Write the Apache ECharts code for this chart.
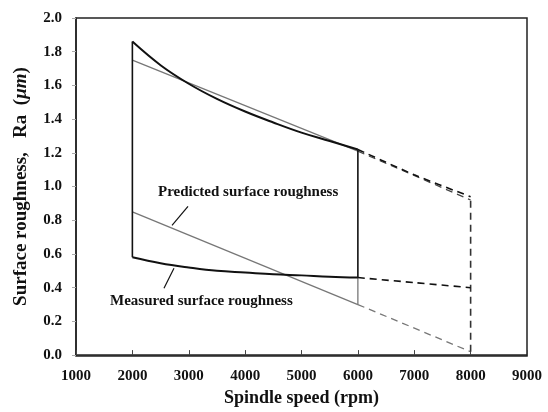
<!DOCTYPE html>
<html>
<head>
<meta charset="utf-8">
<script src="https://cdn.jsdelivr.net/npm/echarts@6/dist/echarts.min.js"></script>
<style>
  html, body { margin: 0; padding: 0; background: #fff; }
  #main { width: 548px; height: 412px; }
</style>
</head>
<body>
<div id="main"></div>
<script>
// spindle speeds (rpm) for the measured curves
var speeds = [2000, 2500, 3000, 3500, 4000, 4500, 5000, 5500, 6000];
var measuredUpper = [1.86, 1.72, 1.61, 1.52, 1.445, 1.38, 1.32, 1.27, 1.22];
var measuredLower = [0.58, 0.545, 0.52, 0.50, 0.49, 0.48, 0.473, 0.465, 0.46];

// predicted lines (straight)
var predSpeeds = [2000, 6000];
var predictedUpper = [1.75, 1.21];
var predictedLower = [0.85, 0.30];

// extrapolated part 6000 -> 8000
var extSpeeds = [6000, 7000, 8000];
var measuredUpperExt = [1.22, 1.07, 0.94];
var measuredLowerExt = [0.46, 0.43, 0.40];
var predExtSpeeds = [6000, 8000];
var predictedUpperExt = [1.21, 0.92];
var predictedLowerExt = [0.30, 0.02];

var xTicks = [1000, 2000, 3000, 4000, 5000, 6000, 7000, 8000, 9000];
var yTicks = [0.0, 0.2, 0.4, 0.6, 0.8, 1.0, 1.2, 1.4, 1.6, 1.8, 2.0];

function pairs(xs, ys) {
    return xs.map(function (x, i) { return [x, ys[i]]; });
}

var FONT = '"Liberation Serif", "Times New Roman", serif';
var BLACK = '#111';
var GREY = '#777';

var myChart = echarts.init(document.getElementById('main'));

function line(data, color, width, type, smooth) {
    return {
        type: 'line',
        data: data,
        smooth: smooth || false,
        showSymbol: false,
        symbol: 'none',
        silent: true,
        lineStyle: { color: color, width: width, type: type || 'solid' },
        z: color === BLACK ? 3 : 2
    };
}

var last = speeds.length - 1;

var option = {
    animation: false,
    grid: { left: 76, right: 21, top: 18, bottom: 56 },
    xAxis: {
        type: 'value',
        min: xTicks[0],
        max: xTicks[xTicks.length - 1],
        interval: 1000,
        name: 'Spindle speed (rpm)',
        nameLocation: 'middle',
        nameGap: 33,
        nameTextStyle: { fontFamily: FONT, fontWeight: 'bold', fontSize: 18, color: BLACK },
        axisLine: { show: true, lineStyle: { color: '#222', width: 1.5 } },
        axisTick: { show: true, inside: true, length: 5, lineStyle: { color: '#444' } },
        axisLabel: {
            fontFamily: FONT, fontWeight: 'bold', fontSize: 15, color: BLACK, margin: 14,
            formatter: function (v) { return String(v); }
        },
        splitLine: { show: false }
    },
    yAxis: {
        type: 'value',
        min: yTicks[0],
        max: yTicks[yTicks.length - 1],
        interval: 0.2,
        name: '{a|Surface roughness,   Ra  (}{i|\u03bcm}{a|)}',
        nameLocation: 'middle',
        nameGap: 45,
        nameTextStyle: {
            rich: {
                a: { fontFamily: FONT, fontWeight: 'bold', fontSize: 19, color: BLACK },
                i: { fontFamily: FONT, fontStyle: 'italic', fontWeight: 'bold', fontSize: 19, color: BLACK }
            }
        },
        axisLine: { show: true, lineStyle: { color: '#222', width: 1.5 } },
        axisTick: { show: true, inside: false, length: 4, lineStyle: { color: '#aaa' } },
        axisLabel: {
            fontFamily: FONT, fontWeight: 'bold', fontSize: 15, color: BLACK, margin: 14,
            formatter: function (v) { return v.toFixed(1); }
        },
        splitLine: { show: false }
    },
    graphic: [
        {   // frame top/right
            type: 'rect', silent: true,
            shape: { x: 76, y: 18, width: 451, height: 338 },
            style: { fill: 'none', stroke: '#222', lineWidth: 1.5 }
        },
        {
            type: 'text', left: 158, top: 185, silent: true,
            style: { text: 'Predicted surface roughness', font: 'bold 15px ' + FONT, fill: BLACK }
        },
        {
            type: 'text', left: 110, top: 294, silent: true,
            style: { text: 'Measured surface roughness', font: 'bold 15px ' + FONT, fill: BLACK }
        }
    ],
    series: [
        line(pairs(speeds, measuredUpper), BLACK, 2, 'solid', 0.4),
        line(pairs(speeds, measuredLower), BLACK, 2, 'solid', 0.4),
        line(pairs(predSpeeds, predictedUpper), GREY, 1.3),
        line(pairs(predSpeeds, predictedLower), GREY, 1.3),
        // vertical edges
        line([[speeds[0], measuredLower[0]], [speeds[0], measuredUpper[0]]], BLACK, 1.6),
        line([[speeds[last], measuredLower[last]], [speeds[last], measuredUpper[last]]], BLACK, 1.6),
        line([[predSpeeds[1], predictedLower[1]], [speeds[last], measuredLower[last]]], GREY, 1.3),
        // extrapolation
        line(pairs(extSpeeds, measuredUpperExt), BLACK, 1.6, [7, 5], 0.3),
        line(pairs(extSpeeds, measuredLowerExt), BLACK, 1.6, [7, 5], 0.3),
        line(pairs(predExtSpeeds, predictedUpperExt), '#444', 1.2, [7, 5]),
        line(pairs(predExtSpeeds, predictedLowerExt), GREY, 1.3, [7, 5]),
        line([[8000, predictedLowerExt[1]], [8000, measuredUpperExt[2]]], '#333', 1.6, [7, 5]),
        // leader lines for the annotations
        line([[2987, 0.882], [2703, 0.769]], BLACK, 1.2),
        line([[2738, 0.515], [2561, 0.396]], BLACK, 1.2)
    ]
};
myChart.setOption(option);
</script>
</body>
</html>
